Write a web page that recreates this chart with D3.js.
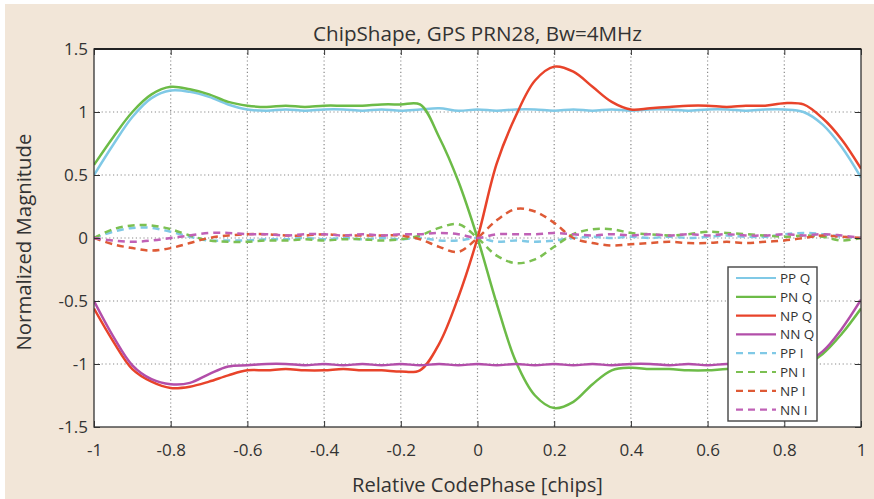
<!DOCTYPE html>
<html>
<head>
<meta charset="utf-8">
<script src="https://cdn.jsdelivr.net/npm/d3@7/dist/d3.min.js"></script>
<style>
  html, body { margin: 0; padding: 0; background: #ffffff; }
  svg { display: block; }
  text { font-family: "Open Sans", "Noto Sans", sans-serif; fill: #333; }
</style>
</head>
<body>
<svg id="chart" width="874" height="499"></svg>
<script>
// ---- data ----
const codePhase = [-1.00,-0.95,-0.90,-0.85,-0.80,-0.75,-0.70,-0.65,-0.60,-0.55,-0.50,-0.45,-0.40,-0.35,-0.30,-0.25,-0.20,-0.15,-0.10,-0.05,
  0.00,0.05,0.10,0.15,0.20,0.25,0.30,0.35,0.40,0.45,0.50,0.55,0.60,0.65,0.70,0.75,0.80,0.85,0.90,0.95,1.00];

const ppQ = [0.50,0.74,0.96,1.11,1.17,1.16,1.12,1.06,1.02,1.01,1.02,1.01,1.02,1.02,1.01,1.02,1.01,1.02,1.03,1.01,
  1.02,1.01,1.02,1.02,1.01,1.02,1.01,1.02,1.01,1.02,1.02,1.01,1.02,1.02,1.01,1.02,1.02,1.00,0.90,0.72,0.48];
const pnQ = [0.58,0.80,1.00,1.14,1.20,1.18,1.14,1.08,1.05,1.04,1.05,1.04,1.05,1.05,1.05,1.06,1.06,1.06,0.80,0.45,
  0.00,-0.52,-0.98,-1.25,-1.35,-1.30,-1.16,-1.05,-1.03,-1.04,-1.04,-1.05,-1.05,-1.04,-1.04,-1.03,-1.02,-1.01,-0.92,-0.76,-0.56];
const npQ = [-0.56,-0.82,-1.04,-1.14,-1.19,-1.18,-1.14,-1.09,-1.05,-1.05,-1.04,-1.05,-1.05,-1.04,-1.05,-1.05,-1.06,-1.05,-0.84,-0.47,
  0.00,0.59,0.97,1.25,1.36,1.32,1.20,1.08,1.02,1.03,1.04,1.05,1.05,1.04,1.05,1.05,1.07,1.06,0.95,0.78,0.55];
const nnQ = [-0.50,-0.78,-1.01,-1.12,-1.16,-1.15,-1.08,-1.02,-1.01,-1.00,-1.00,-1.01,-1.00,-1.01,-1.00,-1.01,-1.00,-1.01,-1.00,-1.01,
  -1.00,-1.01,-1.00,-1.01,-1.00,-1.01,-1.00,-1.01,-1.00,-1.00,-1.01,-1.00,-1.01,-1.00,-1.01,-1.00,-1.01,-0.99,-0.90,-0.72,-0.49];
const ppI = [0.00,0.05,0.08,0.08,0.05,0.01,-0.02,-0.02,-0.02,-0.01,-0.01,0.00,-0.01,0.00,-0.01,0.00,-0.01,0.00,-0.02,-0.02,
  0.00,-0.03,-0.02,-0.03,-0.02,0.00,0.01,0.00,0.01,0.00,0.01,0.00,0.01,0.02,0.01,0.01,0.03,0.04,0.03,0.01,0.00];
const pnI = [0.00,0.07,0.10,0.10,0.07,0.02,-0.02,-0.03,-0.03,-0.02,-0.02,-0.01,-0.02,-0.01,-0.01,-0.02,-0.01,0.02,0.08,0.11,
  0.00,-0.14,-0.20,-0.17,-0.07,0.03,0.07,0.07,0.04,0.03,0.02,0.03,0.05,0.04,0.03,0.02,0.01,0.02,0.01,-0.02,0.00];
const npI = [0.00,-0.05,-0.08,-0.10,-0.08,-0.04,0.00,0.02,0.03,0.03,0.02,0.02,0.03,0.02,0.02,0.02,0.02,-0.01,-0.07,-0.11,
  0.00,0.14,0.23,0.21,0.12,0.00,-0.04,-0.06,-0.05,-0.04,-0.03,-0.04,-0.04,-0.03,-0.04,-0.03,-0.02,0.00,0.02,0.01,0.00];
const nnI = [0.00,-0.02,-0.03,-0.02,0.00,0.02,0.04,0.04,0.03,0.03,0.02,0.03,0.03,0.02,0.03,0.02,0.03,0.03,0.04,0.03,
  0.00,0.03,0.03,0.03,0.04,0.03,0.02,0.03,0.02,0.03,0.02,0.03,0.02,0.03,0.02,0.02,0.03,0.02,0.03,0.02,0.00];

const seriesNames = ["PP Q","PN Q","NP Q","NN Q","PP I","PN I","NP I","NN I"];
const seriesValues = [ppQ, pnQ, npQ, nnQ, ppI, pnI, npI, nnI];
const xTicks = [-1,-0.8,-0.6,-0.4,-0.2,0,0.2,0.4,0.6,0.8,1];
const yTicks = [-1.5,-1,-0.5,0,0.5,1,1.5];
const titleText = "ChipShape, GPS PRN28, Bw=4MHz";
const xLabelText = "Relative CodePhase [chips]";
const yLabelText = "Normalized Magnitude";

// ---- styles ----
const colors = ["#80c9e6","#6cbb47","#e8432a","#b24ea9","#80c9e6","#7cc052","#de5a36","#c061b6"];
const dashed = [false,false,false,false,true,true,true,true];

// ---- layout ----
const svg = d3.select("#chart");
const W = 874, H = 499;
const m = {left: 94, right: 861, top: 49, bottom: 427};

svg.append("rect").attr("x",5).attr("y",4).attr("width",W-5).attr("height",H-4).attr("fill","#f2e6d8");
svg.append("rect").attr("x",m.left).attr("y",m.top).attr("width",m.right-m.left).attr("height",m.bottom-m.top).attr("fill","#ffffff");

const x = d3.scaleLinear().domain([-1,1]).range([m.left, m.right]);
const y = d3.scaleLinear().domain([-1.5,1.5]).range([m.bottom, m.top]);

// grid
const grid = svg.append("g");
grid.selectAll(".vg").data(xTicks.slice(1,-1)).enter().append("line")
  .attr("x1", d=>x(d)).attr("x2", d=>x(d)).attr("y1", m.top).attr("y2", m.bottom)
  .attr("stroke","#8a8a8a").attr("stroke-width",1.2).attr("stroke-dasharray","1.2,2.6");
grid.selectAll(".hg").data(yTicks.slice(1,-1)).enter().append("line")
  .attr("y1", d=>y(d)).attr("y2", d=>y(d)).attr("x1", m.left).attr("x2", m.right)
  .attr("stroke","#8a8a8a").attr("stroke-width",1.2).attr("stroke-dasharray","1.2,2.6");

// lines
svg.append("clipPath").attr("id","clip").append("rect")
  .attr("x",m.left).attr("y",m.top).attr("width",m.right-m.left).attr("height",m.bottom-m.top);
const lineGen = d3.line().x(d=>x(d[0])).y(d=>y(d[1])).curve(d3.curveCatmullRom.alpha(0.5));
const lines = svg.append("g").attr("clip-path","url(#clip)");
const order = [0,4,1,5,2,6,3,7];
order.forEach(i => {
  const pts = codePhase.map((c,k)=>[c, seriesValues[i][k]]);
  lines.append("path").attr("d", lineGen(pts)).attr("fill","none")
    .attr("stroke", colors[i]).attr("stroke-width", 2.5)
    .attr("stroke-linejoin","round")
    .attr("stroke-dasharray", dashed[i] ? "7,5" : null);
});

// axes
const axB = d3.axisBottom(x).tickValues(xTicks).tickSizeInner(-6).tickSizeOuter(0).tickPadding(17).tickFormat(d=>String(d));
const axL = d3.axisLeft(y).tickValues(yTicks).tickSizeInner(-6).tickSizeOuter(0).tickPadding(6).tickFormat(d=>String(d));
const axT = d3.axisTop(x).tickValues(xTicks).tickSizeInner(-6).tickSizeOuter(0).tickFormat("");
const axR = d3.axisRight(y).tickValues(yTicks).tickSizeInner(-6).tickSizeOuter(0).tickFormat("");
function styleAxis(g){
  g.select(".domain").remove();
  g.selectAll(".tick line").attr("stroke","#333").attr("stroke-width",1);
  g.selectAll(".tick text").style("font-family","'Open Sans', sans-serif").style("font-size","17px").attr("fill","#333");
}
svg.append("g").attr("transform",`translate(0,${m.bottom})`).call(axB).call(styleAxis);
svg.append("g").attr("transform",`translate(${m.left},0)`).call(axL).call(styleAxis);
svg.append("g").attr("transform",`translate(0,${m.top})`).call(axT).call(styleAxis);
svg.append("g").attr("transform",`translate(${m.right},0)`).call(axR).call(styleAxis);

// frame
svg.append("rect").attr("x",m.left).attr("y",m.top).attr("width",m.right-m.left).attr("height",m.bottom-m.top)
  .attr("fill","none").attr("stroke","#333").attr("stroke-width",1.3);
svg.append("line").attr("x1",m.left).attr("x2",m.right).attr("y1",m.top).attr("y2",m.top)
  .attr("stroke","#222").attr("stroke-width",2.2);

// titles
function fitText(sel, width){
  const w = sel.node().getComputedTextLength();
  const fs = parseFloat(sel.style("font-size"));
  sel.style("font-size", (fs*width/w).toFixed(2)+"px");
}
const t = svg.append("text").attr("x",(m.left+m.right)/2).attr("y",41).attr("text-anchor","middle")
  .style("font-size","19px").text(titleText);
fitText(t, 329);
const xl = svg.append("text").attr("x",(m.left+m.right)/2).attr("y",492).attr("text-anchor","middle")
  .style("font-size","17px").text(xLabelText);
fitText(xl, 251);
const yl = svg.append("text").attr("transform",`translate(31,242) rotate(-90)`).attr("text-anchor","middle")
  .style("font-size","17px").text(yLabelText);
fitText(yl, 217);

// legend
const lg = svg.append("g");
const lx = 728, ly = 267, lw = 89, lh = 154;
lg.append("rect").attr("x",lx).attr("y",ly).attr("width",lw).attr("height",lh)
  .attr("fill","#ffffff").attr("stroke","#444").attr("stroke-width",1.4);
seriesNames.forEach((name,i)=>{
  const yy = ly + 11 + i*18.8;
  lg.append("line").attr("x1",lx+8).attr("x2",lx+48).attr("y1",yy).attr("y2",yy)
    .attr("stroke",colors[i]).attr("stroke-width",2.2)
    .attr("stroke-dasharray", dashed[i] ? "7,5" : null);
  lg.append("text").attr("x",lx+52).attr("y",yy+5).style("font-size","13.5px").text(name);
});
</script>
</body>
</html>
